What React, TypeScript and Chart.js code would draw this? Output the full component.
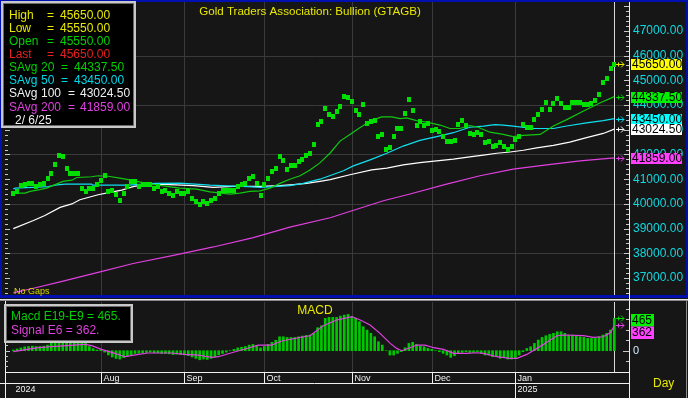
import React, { useEffect, useRef } from "react";
import { Chart, registerables } from "chart.js";
Chart.register(...registerables);

const W = 688;
const H = 398;
const FONT = '"Liberation Sans", Arial, Helvetica, sans-serif';
const BG = "#161616";
const GRID = "#3a3a3a";

// ---------------- data ----------------
const closes = [
  40440, 40510, 40750, 40800, 40840, 40840, 40720, 40800, 40840, 41040,
  41250, 41610, 41950, 41910, 41450, 41250, 41250, 41250, 40640, 40510,
  40640, 40640, 40800, 40950, 41150, 40520, 40560, 40400, 40130, 40440,
  40690, 40900, 40900, 40710, 40800, 40800, 40800, 40640, 40690, 40490,
  40530, 40440, 40330, 40490, 40440, 40440, 40490, 40200, 40100, 39960,
  40100, 40000, 40130, 40200, 40440, 40530, 40530, 40530, 40530, 40690,
  40800, 40840, 41030, 41110, 40840, 40350, 40800, 41040, 41310, 41450,
  41910, 41740, 41410, 41550, 41550, 41710, 41810, 41940, 42050, 42410,
  43210, 43320, 43860, 43610, 43520, 43720, 43920, 44360, 44320, 44160,
  43760, 43610, 44020, 43250, 43320, 43370, 42710, 42810, 42210, 42300,
  42710, 43050, 43050, 43650, 44220, 43760, 43160, 43320, 43160, 43240,
  42960, 43010, 42920, 42740, 42540, 42510, 42550, 43210, 43360, 43160,
  42850, 42810, 42900, 42810, 42500, 42540, 42310, 42370, 42500, 42340,
  42210, 42340, 42610, 42710, 43210, 43100, 43100, 43410, 43610, 43820,
  44120, 43820, 44060, 44260, 44060, 43910, 43910, 44120, 44120, 44120,
  44020, 44020, 44060, 44180, 44420, 44920, 45060, 45460, 45650,
];

const sma20: [number, number][] = [
  [0, 40440], [3.1, 40440], [4.4, 40510], [6.6, 40570], [8.8, 40640], [11, 40780],
  [13.1, 40910], [15.4, 40960], [16.7, 41070], [20.6, 41100], [22.3, 41140], [25, 41120],
  [28, 41040], [31.1, 40960], [34.6, 40840], [38.1, 40760], [43.8, 40640], [48.2, 40600],
  [51.7, 40490], [57, 40400], [59.6, 40440], [62.2, 40510], [64.9, 40530], [67.5, 40640],
  [70.1, 40830], [72.7, 41000], [75.4, 41140], [78, 41370], [80.6, 41660], [83.3, 42060],
  [85.9, 42540], [88.5, 42810], [91.1, 43080], [93.8, 43350], [96.8, 43520], [99.5, 43520],
  [101.7, 43450], [103.4, 43480], [106, 43370], [108.7, 43310], [112.2, 43190], [114.8, 43050],
  [117.4, 43050], [120, 43170], [122.2, 43100], [125.3, 42900], [128.8, 42810], [131.4, 42720],
  [134.1, 42770], [138.5, 42810], [142, 43150], [145.5, 43410], [149.8, 43750], [154.2, 44080],
  [158, 44337.5],
];

const sma50: [number, number][] = [
  [0, 40610], [0.5, 40640], [9.2, 40700], [11, 40760], [13.6, 40800], [20.6, 40800],
  [20.8, 40760], [30.2, 40760], [37.3, 40830], [43.8, 40840], [47.8, 40800], [51.7, 40760],
  [57.8, 40720], [61.8, 40700], [64.9, 40670], [68.3, 40700], [72.7, 40740], [76.2, 40830],
  [80.6, 41000], [86.8, 41340], [89.4, 41540], [93.8, 41780], [98.2, 42050], [102.5, 42340],
  [106.9, 42570], [111.3, 42720], [115.7, 42880], [120, 43100], [123.6, 43150], [126.6, 43210],
  [128.8, 43190], [131.4, 43150], [136.7, 43050], [142, 43050], [145.5, 43150], [150.7, 43280],
  [155.1, 43370], [158, 43450],
];

const sma100: [number, number][] = [
  [0, 39000], [5.3, 39330], [8.3, 39530], [12.3, 39860], [15.4, 40000], [17.5, 40170],
  [22.3, 40370], [25.4, 40470], [28.5, 40560], [31.5, 40700], [33.8, 40760], [38.1, 40800],
  [47.3, 40740], [52.6, 40670], [57.8, 40710], [64.9, 40710], [70.1, 40740], [73.6, 40780],
  [77.1, 40830], [80.6, 40910], [83.3, 40980], [88.5, 41180], [94.2, 41380], [98.2, 41450],
  [102.5, 41580], [106.9, 41670], [111.3, 41740], [115.7, 41810], [120, 41900], [123.6, 41970],
  [127.1, 42050], [130.6, 42100], [134.1, 42170], [137.6, 42270], [142, 42370], [146.3, 42500],
  [150.7, 42680], [155.1, 42850], [158, 43024.5],
];

const sma200: [number, number][] = [
  [0, 36400], [5.3, 36590], [12.3, 36850], [22.8, 37250], [31.5, 37590], [42.1, 37920],
  [52.6, 38260], [63.1, 38640], [72.7, 39060], [83.3, 39440], [97.3, 40130], [104.3, 40400],
  [113.9, 40800], [122.7, 41140], [131.4, 41410], [140.2, 41580], [149, 41740], [158, 41859],
];

const macdHist = [
  10, 25, 40, 55, 60, 65, 60, 60, 65, 80,
  110, 160, 210, 240, 230, 210, 190, 170, 150, 120,
  60, 30, 10, 15, -20, -60, -90, -110, -120, -100,
  -80, -60, -40, -35, -30, -25, -20, -30, -30, -40,
  -40, -45, -55, -50, -55, -60, -70, -90, -110, -130,
  -120, -125, -110, -90, -60, -40, -20, 0, 20, 40,
  50, 60, 80, 90, 70, 40, 60, 90, 120, 150,
  200, 200, 190, 190, 190, 200, 210, 220, 225, 250,
  330, 358, 464, 478, 478, 478, 497, 511, 521, 488,
  464, 416, 344, 296, 249, 200, 129, 81, 0, -62,
  -62, -38, -14, 43, 105, 120, 91, 72, 57, 33,
  19, 0, -14, -38, -62, -96, -72, -38, -24, -14,
  -24, -24, -14, -38, -62, -62, -86, -86, -110, -100,
  -120, -120, -110, -62, -14, 33, 57, 105, 153, 191,
  215, 234, 249, 272, 272, 249, 225, 225, 215, 200,
  191, 177, 177, 177, 200, 225, 249, 296, 465,
];

const macdSignal: [number, number][] = [
  [0, -14], [6.6, 43], [11, 62], [18.9, 91], [20.6, 72], [23.2, 19], [26.7, -38], [29.4, -86],
  [32.9, -53], [35.5, -33], [41.6, -33], [45.1, -53], [48.6, -62], [52.2, -96], [53.9, -86],
  [57.4, -29], [60.9, 24], [64.4, 81], [67.9, 81], [70.6, 139], [74.9, 186], [78, 215],
  [81.5, 358], [85, 440], [89, 488], [91.2, 440], [93.8, 368], [96.4, 249], [99.1, 105],
  [100.8, 33], [102.1, 0], [104.3, 43], [106.1, 81], [108.3, 81], [110.5, 43], [113.1, 19],
  [115.7, -38], [119.2, -38], [121.8, -29], [123.6, -38], [127.1, -86], [130.6, -110],
  [132.4, -110], [135, -53], [139.4, 91], [142.9, 215], [144.6, 225], [149.9, 215],
  [152.5, 191], [155.1, 200], [157, 260], [158, 362],
];

const monthLabels = ["Aug", "Sep", "Oct", "Nov", "Dec", "Jan"];
const monthStart = [23, 45, 66, 89, 110, 132];
const yearLabels = ["2024", "2025"];
const yearStart = [0, 132];
const priceLabels = [37000, 38000, 39000, 40000, 41000, 42000, 43000, 44000, 45000, 46000, 47000];
const priceGrid = [38000, 40000, 42000, 44000, 46000];
const lastHigh = 45650;
const lastLow = 45550;
const lastOpen = 45550;
const lastClose = 45650;
const macdLast = 465;
const signalLast = 362;
const dateText = "2/ 6/25";
const titleText = "Gold Traders Association: Bullion (GTAGB)";

const X_MIN = -2.18;
const X_MAX = 161.6;

// -------------- helpers ---------------
function line(ctx: CanvasRenderingContext2D, x1: number, y1: number, x2: number, y2: number) {
  ctx.beginPath();
  ctx.moveTo(x1, y1);
  ctx.lineTo(x2, y2);
  ctx.stroke();
}
function text(ctx: CanvasRenderingContext2D, s: string, x: number, y: number, color: string, size = 12, align: CanvasTextAlign = "left") {
  ctx.font = `${size}px ${FONT}`;
  ctx.fillStyle = color;
  ctx.textAlign = align;
  ctx.textBaseline = "middle";
  ctx.fillText(s, x, y);
}
function arrow(ctx: CanvasRenderingContext2D, y: number, color: string) {
  const yy = Math.round(y) + 0.5;
  ctx.strokeStyle = color;
  ctx.lineWidth = 1;
  line(ctx, 616, yy, 624, yy);
  line(ctx, 621, yy - 3, 624, yy);
  line(ctx, 621, yy + 3, 624, yy);
  line(ctx, 618.5, yy - 2, 618.5, yy + 2);
}
function fmt(v: number) {
  return v.toFixed(2);
}
function legendFrame(ctx: CanvasRenderingContext2D, x: number, y: number, w: number, h: number) {
  ctx.fillStyle = "#000000";
  ctx.fillRect(x, y, w, h);
  ctx.strokeStyle = "#c8c8c8";
  ctx.lineWidth = 2;
  ctx.strokeRect(x + 1, y + 1, w - 2, h - 2);
  ctx.strokeStyle = "#6a6a6a";
  ctx.lineWidth = 1;
  ctx.strokeRect(x + 2.5, y + 2.5, w - 5, h - 5);
}

const pricePanel = {
  id: "pricePanel",
  beforeDraw(chart: any) {
    const ctx: CanvasRenderingContext2D = chart.ctx;
    const xs = chart.scales.x;
    const ys = chart.scales.y;
    ctx.save();
    ctx.fillStyle = BG;
    ctx.fillRect(0, 0, W, H);
    ctx.strokeStyle = GRID;
    ctx.lineWidth = 1;
    monthStart.forEach((i) => {
      const x = Math.round(xs.getPixelForValue(i)) + 0.5;
      line(ctx, x, 2, x, 296);
      line(ctx, x, 302, x, 372);
    });
    priceGrid.forEach((p) => {
      const y = Math.round(ys.getPixelForValue(p)) + 0.5;
      line(ctx, 5, y, 628, y);
    });
    const dx = Math.round(xs.getPixelForValue(closes.length - 1)) + 0.5;
    ctx.strokeStyle = "#d8d8d8";
    line(ctx, dx, 2, dx, 296);
    line(ctx, dx, 302, dx, 372);
    ctx.restore();
  },
  afterDraw(chart: any) {
    const ctx: CanvasRenderingContext2D = chart.ctx;
    const xs = chart.scales.x;
    const ys = chart.scales.y;
    ctx.save();
    // frames
    ctx.fillStyle = "#0010b0";
    ctx.fillRect(0, 0, W, 2);
    ctx.fillRect(0, 0, 2, 298);
    ctx.fillRect(W - 2, 0, 2, 298);
    ctx.fillRect(0, 295, W, 3);
    ctx.fillStyle = "#e8e8e8";
    ctx.fillRect(0, 299, W, 1);
    ctx.fillStyle = "#8a8a8a";
    ctx.fillRect(0, 300, W, 1);
    ctx.fillRect(W - 2, 300, 1, H - 300);

    // right axis line
    ctx.strokeStyle = "#f0f0f0";
    ctx.lineWidth = 1;
    line(ctx, 629.5, 2, 629.5, H);

    // ticks price (left + right)
    ctx.strokeStyle = "#c8c8c8";
    for (let v = 36400; v <= 48000; v += 200) {
      const y = Math.round(ys.getPixelForValue(v)) + 0.5;
      if (y < 4 || y > 294) continue;
      const major = v % 1000 === 0;
      line(ctx, 5, y, major ? 10 : 8, y);
      line(ctx, major ? 624 : 626, y, 629, y);
    }
    // right labels
    priceLabels.forEach((p) => {
      const y = ys.getPixelForValue(p);
      text(ctx, fmt(p), 633, y, "#10d8e0", 12);
    });

    // bottom time axis
    ctx.strokeStyle = "#f0f0f0";
    line(ctx, 5, 372.5, 629, 372.5);
    line(ctx, 0, 383.5, 629, 383.5);
    line(ctx, 5.5, 301, 5.5, H);
    monthStart.forEach((i, k) => {
      const x = Math.round(xs.getPixelForValue(i)) + 0.5;
      ctx.strokeStyle = "#f0f0f0";
      line(ctx, x, 372, x, 383);
      text(ctx, monthLabels[k], x + 2, 378.5, "#f0f0f0", 9);
    });
    yearStart.forEach((i, k) => {
      const x = Math.round(xs.getPixelForValue(i)) + 0.5;
      if (k > 0) {
        ctx.strokeStyle = "#f0f0f0";
        line(ctx, x, 383, x, H);
      }
      text(ctx, yearLabels[k], x + 2, 390, "#f0f0f0", 9);
    });
    text(ctx, "Day", 653, 383.5, "#e8e800", 12);

    // title & no gaps
    text(ctx, titleText, 310, 12, "#e8e800", 11.6, "center");
    text(ctx, "No Gaps", 14, 292, "#d8d800", 9);

    // value boxes
    const boxes: [number, string, string][] = [
      [lastClose, "#ffff00", "#e8e800"],
      [sma20[sma20.length - 1][1], "#00f000", "#00d000"],
      [sma50[sma50.length - 1][1], "#00ffff", "#00e0f0"],
      [sma100[sma100.length - 1][1], "#ffffff", "#ffffff"],
      [sma200[sma200.length - 1][1], "#ff40ff", "#e040e0"],
    ];
    boxes.forEach(([v, bg, ac]) => {
      const y = ys.getPixelForValue(v);
      arrow(ctx, y, ac);
      const top = Math.round(y) - 5;
      ctx.fillStyle = bg;
      ctx.fillRect(631, top, 51, 11);
      text(ctx, fmt(v), 632, top + 6, "#000000", 12);
    });

    // legend box
    legendFrame(ctx, 1, 1, 135, 127);
    const rows: [string, string, string][] = [
      ["High", fmt(lastHigh), "#e8e800"],
      ["Low", fmt(lastLow), "#e8e800"],
      ["Open", fmt(lastOpen), "#00d000"],
      ["Last", fmt(lastClose), "#e82020"],
    ];
    rows.forEach(([l, v, c], k) => {
      const y = 15.5 + k * 13.1;
      text(ctx, l, 9, y, c);
      text(ctx, "=", 47, y, c);
      text(ctx, v, 60, y, c);
    });
    const avgRows: [string, number, string, number, number][] = [
      ["20", sma20[sma20.length - 1][1], "#00d000", 61, 74],
      ["50", sma50[sma50.length - 1][1], "#00d8e8", 61, 74],
      ["100", sma100[sma100.length - 1][1], "#f0f0f0", 68, 80],
      ["200", sma200[sma200.length - 1][1], "#e040e0", 68, 80],
    ];
    avgRows.forEach(([n, v, c, ex, vx], k) => {
      const y = 15.5 + (k + 4) * 13.1;
      text(ctx, "SAvg", 9, y, c);
      text(ctx, n, 41, y, c);
      text(ctx, "=", ex, y, c);
      text(ctx, fmt(v), vx, y, c);
    });
    text(ctx, dateText, 15, 15.5 + 8 * 13.1, "#f0f0f0");
    ctx.restore();
  },
};

const macdPanel = {
  id: "macdPanel",
  afterDraw(chart: any) {
    const ctx: CanvasRenderingContext2D = chart.ctx;
    const ys = chart.scales.y;
    ctx.save();
    ctx.strokeStyle = "#c8c8c8";
    ctx.lineWidth = 1;
    for (let v = -300; v <= 750; v += 75) {
      const y = Math.round(ys.getPixelForValue(v)) + 0.5;
      if (y < 302 || y > 371) continue;
      line(ctx, 5, y, v === 0 ? 10 : 8, y);
    }
    for (let v = -300; v <= 750; v += 150) {
      const y = Math.round(ys.getPixelForValue(v)) + 0.5;
      if (y < 302 || y > 371) continue;
      line(ctx, v === 0 ? 623 : 626, y, 629, y);
    }
    text(ctx, "0", 633, ys.getPixelForValue(0), "#d8ecff", 11);
    text(ctx, "MACD", 315, 311, "#e8e800", 12, "center");

    const yM = ys.getPixelForValue(macdLast);
    const yS = ys.getPixelForValue(signalLast);
    arrow(ctx, yM, "#00d000");
    arrow(ctx, yS, "#e040e0");
    const gTop = Math.round(yM) - 4;
    ctx.fillStyle = "#00f000";
    ctx.fillRect(631, gTop, 23, 12.5);
    text(ctx, String(macdLast), 632, gTop + 6.5, "#000000", 12);
    ctx.fillStyle = "#ff40ff";
    ctx.fillRect(631, gTop + 12.5, 23, 12.5);
    text(ctx, String(signalLast), 632, gTop + 19, "#000000", 12);

    legendFrame(ctx, 4, 304, 129, 39);
    text(ctx, `Macd E19-E9 = ${macdLast}.`, 11, 317, "#00d000", 12);
    text(ctx, `Signal E6 = ${signalLast}.`, 11, 331, "#e040e0", 12);
    ctx.restore();
  },
};

export default function App() {
  const priceRef = useRef<HTMLCanvasElement>(null);
  const macdRef = useRef<HTMLCanvasElement>(null);

  useEffect(() => {
    const dot = document.createElement("canvas");
    dot.width = 4;
    dot.height = 5;
    const g = dot.getContext("2d")!;
    g.fillStyle = "#00e000";
    g.fillRect(0, 0, 4, 5);

    const lineDs = (label: string, pts: [number, number][], color: string) => ({
      type: "line" as const,
      label,
      data: pts.map(([x, y]) => ({ x, y })),
      borderColor: color,
      borderWidth: 1.2,
      pointRadius: 0,
      tension: 0,
      fill: false,
    });

    const priceChart = new Chart(priceRef.current!, {
      type: "line",
      data: {
        datasets: [
          {
            label: "Close",
            data: closes.map((y, x) => ({ x, y })),
            showLine: false,
            pointStyle: dot as any,
            pointRadius: 2,
            borderColor: "#00e000",
            backgroundColor: "#00e000",
          },
          lineDs("SAvg 20", sma20, "#10c810"),
          lineDs("SAvg 50", sma50, "#10e0f0"),
          lineDs("SAvg 100", sma100, "#ffffff"),
          lineDs("SAvg 200", sma200, "#e040e0"),
        ] as any,
      },
      options: {
        animation: false,
        responsive: false,
        events: [],
        layout: { padding: { left: 5, right: 60, top: 3, bottom: 102 } },
        scales: {
          x: { type: "linear", min: X_MIN, max: X_MAX, display: false },
          y: { type: "linear", min: 36277, max: 48044, display: false },
        },
        plugins: { legend: { display: false }, tooltip: { enabled: false } },
      },
      plugins: [pricePanel],
    });

    const macdChart = new Chart(macdRef.current!, {
      type: "bar",
      data: {
        datasets: [
          {
            type: "line",
            label: "Signal E6",
            data: macdSignal.map(([x, y]) => ({ x, y })),
            borderColor: "#e040e0",
            borderWidth: 1.2,
            pointRadius: 0,
            tension: 0,
            order: 0,
          },
          {
            type: "bar",
            label: "Macd E19-E9",
            data: macdHist.map((y, x) => ({ x, y })),
            backgroundColor: "#00c800",
            barThickness: 2,
            borderWidth: 0,
            order: 1,
          },
        ] as any,
      },
      options: {
        animation: false,
        responsive: false,
        events: [],
        layout: { padding: { left: 5, right: 60, top: 301, bottom: 27 } },
        scales: {
          x: { type: "linear", min: X_MIN, max: X_MAX, display: false, offset: false },
          y: { type: "linear", min: -291, max: 713, display: false },
        },
        plugins: { legend: { display: false }, tooltip: { enabled: false } },
      },
      plugins: [macdPanel],
    });

    return () => {
      priceChart.destroy();
      macdChart.destroy();
    };
  }, []);

  return (
    <div style={{ position: "fixed", left: 0, top: 0, width: W, height: H, background: BG, overflow: "hidden" }}>
      <canvas ref={priceRef} width={W} height={H} style={{ position: "absolute", left: 0, top: 0, width: W, height: H }} />
      <canvas ref={macdRef} width={W} height={H} style={{ position: "absolute", left: 0, top: 0, width: W, height: H }} />
    </div>
  );
}
